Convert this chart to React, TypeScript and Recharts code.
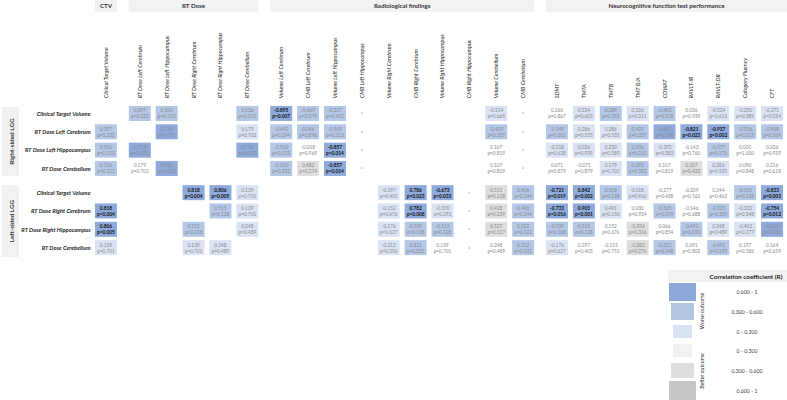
import { ScatterChart, Scatter, XAxis, YAxis } from 'recharts';

// column variables, in order, and the header group each belongs to
const columns = [
  'Clinical Target Volume',
  'RT Dose Left Cerebrum', 'RT Dose Left Hippocampus', 'RT Dose Right Cerebrum', 'RT Dose Right Hippocampus', 'RT Dose Cerebellum',
  'Volume Left Cerebrum', 'CMB Left Cerebrum', 'Volume Left Hippocampus', 'CMB Left Hippocampus',
  'Volume Right Cerebrum', 'CMB Right Cerebrum', 'Volume Right Hippocampus', 'CMB Right Hippocampus',
  'Volume Cerebellum', 'CMB Cerebellum',
  'SDMT', 'TMTA', 'TMTB', 'TMT B/A', 'COWAT', 'RAVLT-IR', 'RAVLT-DR', 'Category Fluency', 'CFT',
];
const columnGroup = [0, 1, 1, 1, 1, 1, 2, 2, 2, 2, 2, 2, 2, 2, 2, 2, 3, 3, 3, 3, 3, 3, 3, 3, 3];
const groupTitles = ['CTV', 'RT Dose', 'Radiological findings', 'Neurocognitive function test performance'];

const rightRows = ['Clinical Target Volume', 'RT Dose Left Cerebrum', 'RT Dose Left Hippocampus', 'RT Dose Cerebellum'];
const leftRows = ['Clinical Target Volume', 'RT Dose Right Cerebrum', 'RT Dose Right Hippocampus', 'RT Dose Cerebellum'];

// [r, p, tone]  tone: 3/2/1 worse outcome, -1/-2/-3 better outcome, 0 uncoloured
type Entry = [number, number, number] | null | '*';
const S = '*';
const _ = null;

const rightCtv: Entry[] = [_, [0.397, 0.332, 2], [0.5, 0.253, 2], _, _, [0.536, 0.215, 2], [-0.895, 0.007, 3], [-0.469, 0.379, 2], [-0.327, 0.432, 2], S, _, _, _, _, [-0.214, 0.665, 1], S, [0.26, 0.867, 0], [0.224, 0.605, 1], [0.289, 0.253, 2], [0.326, 0.311, 1], [-0.402, 0.318, 2], [0.036, 0.939, 0], [-0.224, 0.613, 1], [-0.25, 0.589, 1], [-0.271, 0.554, 1]];
const rightDoseLeftCerebrum: Entry[] = [[0.397, 0.332, 2], _, [0.714, 0.071, 3], _, _, [0.179, 0.702, 1], [-0.442, 0.294, 2], [0.046, 0.898, 2], [-0.509, 0.213, 2], S, _, _, _, _, [-0.429, 0.337, 2], S, [-0.549, 0.201, 2], [0.286, 0.535, 1], [0.286, 0.535, 1], [0.429, 0.337, 2], [-0.607, 0.148, 3], [-0.821, 0.023, 3], [-0.937, 0.002, 3], [-0.536, 0.215, 2], [-0.408, 0.369, 2]];
const rightDoseLeftHippocampus: Entry[] = [[0.5, 0.253, 2], [0.714, 0.071, 3], _, _, _, [0.75, 0.052, 3], [-0.5, 0.253, 2], [-0.018, 0.969, 0], [-0.857, 0.014, 3], S, _, _, _, _, [0.107, 0.819, 0], S, [-0.218, 0.638, 1], [0.036, 0.939, 1], [0.25, 0.589, 1], [0.536, 0.215, 2], [-0.393, 0.383, 1], [-0.143, 0.76, 0], [-0.577, 0.175, 2], [0, 1, 0], [0.036, 0.939, 0]];
const rightDoseCerebellum: Entry[] = [[0.536, 0.215, 2], [0.179, 0.702, 0], [0.75, 0.052, 3], _, _, _, [-0.5, 0.253, 2], [0.482, 0.274, -2], [-0.857, 0.014, 3], S, _, _, _, _, [0.107, 0.819, 0], S, [0.071, 0.879, 0], [-0.071, 0.879, 0], [0.179, 0.702, 1], [0.393, 0.383, 2], [0.107, 0.819, 0], [0.357, 0.432, -2], [0.286, 0.535, 1], [0.09, 0.848, 0], [0.216, 0.618, 0]];

const leftCtv: Entry[] = [_, _, _, [0.818, 0.004, 3], [0.806, 0.005, 3], [0.139, 0.701, 1], _, _, _, _, [-0.297, 0.405, 1], [0.786, 0.023, 3], [-0.673, 0.033, 3], S, [0.515, 0.128, -2], [0.406, 0.244, 2], [-0.721, 0.019, 3], [0.842, 0.002, 3], [0.503, 0.138, 2], [0.018, 0.96, 1], [-0.277, 0.438, 0], [-0.209, 0.562, 0], [0.244, 0.462, 0], [-0.551, 0.128, 2], [-0.833, 0.003, 3]];
const leftDoseRightCerebrum: Entry[] = [[0.818, 0.004, 3], _, _, _, [0.515, 0.128, 2], [0.139, 0.701, 1], _, _, _, _, [-0.152, 0.676, 1], [0.782, 0.008, 3], [-0.37, 0.293, 1], S, [0.418, 0.229, -2], [0.406, 0.244, 2], [-0.733, 0.016, 3], [0.903, 0.001, 3], [0.491, 0.15, 1], [0.03, 0.934, 0], [-0.365, 0.299, 2], [-0.146, 0.688, 0], [-0.325, 0.359, 2], [-0.332, 0.348, 1], [-0.754, 0.012, 3]];
const leftDoseRightHippocampus: Entry[] = [[0.806, 0.005, 3], _, _, [0.515, 0.128, 2], _, [0.248, 0.489, 1], _, _, _, _, [-0.176, 0.627, 1], [0.539, 0.108, 2], [-0.515, 0.128, 2], S, [0.527, 0.117, -2], [0.522, 0.122, 2], [-0.539, 0.108, 2], [0.515, 0.128, 2], [0.152, 0.676, 0], [-0.396, 0.316, -2], [0.066, 0.854, 0], [-0.491, 0.15, 2], [0.248, 0.489, 1], [-0.401, 0.277, 1], [-0.612, 0.06, 3]];
const leftDoseCerebellum: Entry[] = [[0.139, 0.701, 1], _, _, [0.139, 0.701, 1], [0.248, 0.489, 1], _, _, _, _, _, [-0.212, 0.556, 1], [0.321, 0.331, 2], [0.139, 0.701, 0], S, [0.248, 0.489, 0], [0.522, 0.122, 2], [-0.176, 0.627, 1], [0.297, 0.405, 0], [-0.115, 0.751, 0], [-0.382, 0.276, -2], [-0.321, 0.348, 2], [0.091, 0.802, 0], [-0.492, 0.159, 2], [0.197, 0.586, 0], [0.164, 0.659, 0]];

const matrix = [rightCtv, rightDoseLeftCerebrum, rightDoseLeftHippocampus, rightDoseCerebellum, leftCtv, leftDoseRightCerebrum, leftDoseRightHippocampus, leftDoseCerebellum];
const rowLabels = [...rightRows, ...leftRows];

const legendItems = [
  { label: '0.600 - 1', tone: 3 },
  { label: '0.300 - 0.600', tone: 2 },
  { label: '0 - 0.300', tone: 1 },
  { label: '0 - 0.300', tone: -1 },
  { label: '0.300 - 0.600', tone: -2 },
  { label: '0.600 - 1', tone: -3 },
];

const toneColor: Record<number, string> = {
  3: '#8eaadb', 2: '#b4c7e7', 1: '#dae3f3', 0: 'none', [-1]: '#f2f2f2', [-2]: '#dedede', [-3]: '#c6c6c6',
};

// layout: small extra gap between column groups and between the two patient groups
const GROUP_GAP = 0.26;
const SIDE_GAP = 0.32;
const colPos = columns.map((_c, i) => i + columnGroup[i] * GROUP_GAP);
const rowPos = rowLabels.map((_r, i) => i + (i >= 4 ? SIDE_GAP : 0));

const cells: any[] = [];
matrix.forEach((row, ri) => {
  row.forEach((e, ci) => {
    if (e === null) return;
    if (e === '*') {
      cells.push({ x: colPos[ci], y: rowPos[ri], star: true });
    } else {
      cells.push({ x: colPos[ci], y: rowPos[ri], r: e[0], p: e[1], tone: e[2] });
    }
  });
});

const W = 787;
const H = 400;
const FONT = 'Lato, "Open Sans", sans-serif';
const X_DOMAIN: [number, number] = [-0.5, colPos[colPos.length - 1] + 0.5];
const Y_DOMAIN: [number, number] = [-0.5, rowPos[rowPos.length - 1] + 0.5];
const PLOT_LEFT = 92.5;
const PLOT_RIGHT = 785.5;
const PLOT_TOP = 104.3;
const PLOT_BOTTOM = 256.8;
const colStep = (PLOT_RIGHT - PLOT_LEFT) / (X_DOMAIN[1] - X_DOMAIN[0]);
const px = (v: number) => PLOT_LEFT + (v - X_DOMAIN[0]) * colStep;

function CellShape(props: any) {
  const { cx, cy, payload } = props;
  if (payload.star) {
    return <text x={cx} y={cy + 3} textAnchor="middle" fontSize={6} fill="#7f7f7f" fontFamily={FONT}>*</text>;
  }
  const sig = payload.p < 0.05;
  const color = sig ? '#111' : '#8a8a8a';
  return (
    <g>
      <rect x={cx - 11} y={cy - 7.5} width={22} height={15} fill={toneColor[payload.tone]} />
      <text x={cx} y={cy - 1} textAnchor="middle" fontSize={4.8} fill={color} fontWeight={sig ? 700 : 400} fontFamily={FONT}>
        {payload.r.toFixed(3)}
      </text>
      <text x={cx} y={cy + 5} textAnchor="middle" fontSize={4.8} fill={color} fontWeight={sig ? 700 : 400} fontFamily={FONT}>
        {'p=' + payload.p.toFixed(3)}
      </text>
    </g>
  );
}

function ColTick(props: any) {
  const { x, y, index } = props;
  return (
    <text transform={`translate(${x + 2},${y}) rotate(-90)`} textAnchor="start" fontSize={5.6} fontStyle="italic" fill="#262626" fontFamily={FONT}>
      {columns[index]}
    </text>
  );
}

function RowTick(props: any) {
  const { x, y, index } = props;
  return (
    <text x={x} y={y + 2.2} textAnchor="end" fontSize={5.8} fontStyle="italic" fontWeight={700} fill="#262626" fontFamily={FONT}>
      {rowLabels[index]}
    </text>
  );
}

function Decorations() {
  const groups = groupTitles.map((t, g) => {
    const idx = columnGroup.map((cg, i) => (cg === g ? i : -1)).filter((i) => i >= 0);
    const x1 = px(colPos[idx[0]]) - 11;
    const x2 = g === groupTitles.length - 1 ? W : px(colPos[idx[idx.length - 1]]) + 11;
    return { t, x1, x2 };
  });
  const lx = 668;
  const legendY = [283, 303, 325, 344, 363, 381];
  const legendH = [18, 17, 13, 13, 15, 19];
  const legendInset = [0, 2, 4, 4, 2, 0];
  return (
    <svg width={W} height={H} style={{ position: 'absolute', left: 0, top: 0, pointerEvents: 'none' }} fontFamily={FONT}>
      {groups.map((g) => (
        <g key={g.t}>
          <rect x={g.x1} y={0} width={g.x2 - g.x1} height={12} fill="#f2f2f2" />
          <text x={(g.x1 + g.x2) / 2} y={8} textAnchor="middle" fontSize={6.2} fontWeight={700} fill="#333">{g.t}</text>
        </g>
      ))}
      <rect x={2} y={107} width={17} height={69} fill="#f2f2f2" />
      <text transform="translate(13.5,141.5) rotate(-90)" textAnchor="middle" fontSize={6.4} fontWeight={700} fill="#333">Right-sided LGG</text>
      <rect x={2} y={185} width={17} height={72} fill="#f2f2f2" />
      <text transform="translate(13.5,221) rotate(-90)" textAnchor="middle" fontSize={6.4} fontWeight={700} fill="#333">Left-sided LGG</text>

      <rect x={lx} y={270} width={W - lx} height={12} fill="#f2f2f2" />
      <text x={746} y={278.5} textAnchor="middle" fontSize={6.4} fontWeight={700} fill="#222">Correlation coefficient (R)</text>
      {legendItems.map((it, i) => (
        <g key={i}>
          <rect x={lx + 1 + legendInset[i]} y={legendY[i]} width={27 - 2 * legendInset[i]} height={legendH[i]} fill={toneColor[it.tone]} />
          <text x={747} y={legendY[i] + legendH[i] / 2 + 2} textAnchor="middle" fontSize={5.2} fill="#444">{it.label}</text>
        </g>
      ))}
      <text transform="translate(704,311) rotate(-90)" textAnchor="middle" fontSize={5.2} fill="#333">Worse outcome</text>
      <text transform="translate(704,371) rotate(-90)" textAnchor="middle" fontSize={5.2} fill="#333">Better outcome</text>
    </svg>
  );
}

export default function App() {
  return (
    <div style={{ position: 'absolute', left: 0, top: 0, width: W, height: H, background: '#fff' }}>
      <ScatterChart
        width={W}
        height={H}
        margin={{ top: PLOT_TOP - 100, right: W - PLOT_RIGHT, bottom: H - PLOT_BOTTOM, left: PLOT_LEFT - 90 }}
      >
        <XAxis
          type="number"
          dataKey="x"
          orientation="top"
          domain={X_DOMAIN}
          ticks={colPos}
          interval={0}
          height={100}
          axisLine={false}
          tickLine={false}
          tickSize={0}
          tickMargin={6}
          tick={<ColTick />}
        />
        <YAxis
          type="number"
          dataKey="y"
          reversed
          domain={Y_DOMAIN}
          ticks={rowPos}
          interval={0}
          width={90}
          axisLine={false}
          tickLine={false}
          tickSize={0}
          tickMargin={2}
          tick={<RowTick />}
        />
        <Scatter data={cells} shape={<CellShape />} isAnimationActive={false} />
      </ScatterChart>
      <Decorations />
    </div>
  );
}
